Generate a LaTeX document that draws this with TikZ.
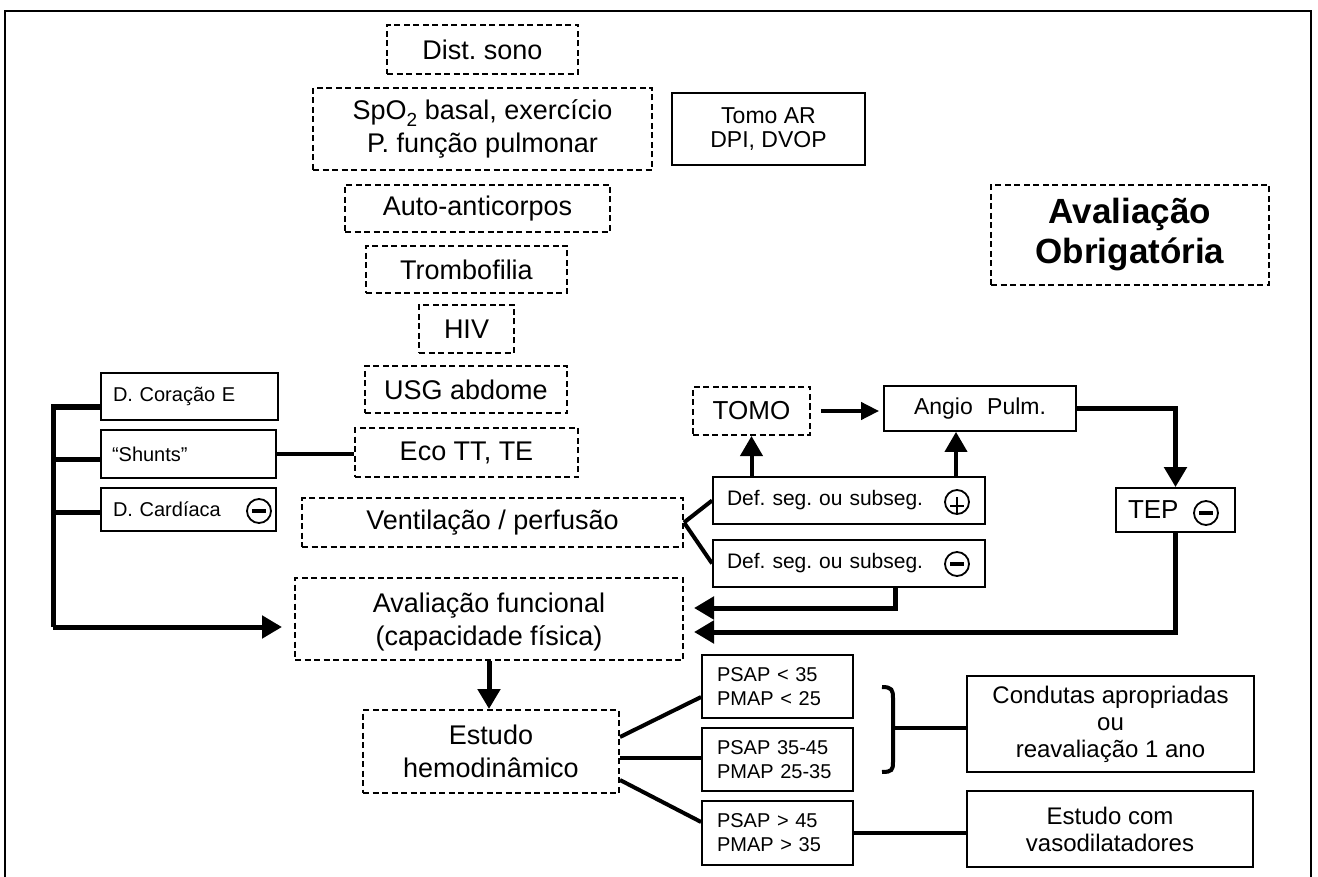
\documentclass[tikz,border=0pt]{standalone}
\usepackage{fontspec}
\setmainfont{Liberation Sans}
\usetikzlibrary{arrows.meta,calc}
\newcommand\fsMain{\fontsize{27pt}{33pt}\selectfont}
\newcommand\fsBig{\bfseries\fontsize{35pt}{40pt}\selectfont}
\newcommand\fsTomo{\fontsize{23pt}{24pt}\selectfont}
\newcommand\fsSide{\fontsize{20pt}{22pt}\selectfont}
\newcommand\fsDef{\fontsize{21pt}{22pt}\selectfont}
\newcommand\fsAngio{\fontsize{23pt}{24pt}\selectfont}
\newcommand\fsMid{\fontsize{26pt}{28pt}\selectfont}
\newcommand\fsPsap{\fontsize{20pt}{24pt}\selectfont}
\newcommand\fsOut{\fontsize{24pt}{27pt}\selectfont}
\begin{document}
\frenchspacing
\begin{tikzpicture}[x=1pt,y=-1pt,
  dbox/.style={draw, line width=2pt, dash pattern=on 6pt off 3.5pt, inner sep=0pt, align=center},
  sbox/.style={draw, line width=1.8pt, inner sep=0pt, align=center},
  lbox/.style={draw, line width=1.8pt, inner ysep=0pt, inner xsep=#1, align=left},
  wh/.style 2 args={minimum width=#1, minimum height=#2},
  sym/.style={circle, draw, line width=1.8pt, minimum size=24pt, inner sep=0pt},
  fat/.style={line width=5pt},
  med/.style={line width=4pt},
  tip/.style={-{Triangle[length=20pt,width=22pt]}},
  smalltip/.style={-{Triangle[length=18pt,width=17pt]}}]
\useasboundingbox (0,0) rectangle (1318,877);
\fill[white] (0,0) rectangle (1318,877);
% outer frame, open at the bottom
\draw[line width=2.5pt] (5,877) -- (5,11) -- (1311,11) -- (1311,877);

% central column of required examinations
\node[dbox, wh={191pt}{49pt}, font=\fsMain] (dist) at (482.5,49.5) {Dist. sono};
\node[dbox, wh={339pt}{82pt}, font=\fsMain] (spo) at (482.5,129)
  {SpO\raisebox{-7pt}{\fontsize{19pt}{19pt}\selectfont 2} basal, exercício\\P. função pulmonar};
\node[sbox, wh={193pt}{72pt}, font=\fsTomo] (tomoar) at (768.5,129) {Tomo AR\\DPI, DVOP};
\node[dbox, wh={278pt}{100pt}, font=\fsBig] (obrig) at (1130,235) {Avaliação\\Obrigatória};
\node[dbox, wh={265pt}{47pt}, font=\fsMain] (auto) at (477.5,208.5) {Auto-anticorpos};
\node[dbox, wh={201pt}{47pt}, font=\fsMain] (tromb) at (466.5,269.5) {Trombofilia};
\node[dbox, wh={95pt}{48pt}, font=\fsMain] (hiv) at (466.5,329) {HIV};
\node[dbox, wh={202pt}{47pt}, font=\fsMain] (usg) at (466,389.5) {USG abdome};
\node[dbox, wh={223pt}{49pt}, font=\fsMain] (eco) at (466.5,452.5) {Eco TT, TE};
\node[dbox, wh={381pt}{49pt}, font=\fsMain] (vent) at (492.5,522.5) {Ventilação / perfusão};
\node[dbox, wh={388pt}{82pt}, font=\fsMain, text depth=0pt] (avf) at (489,619) {Avaliação funcional\\(capacidade física)};
\node[dbox, wh={256pt}{83pt}, font=\fsMain] (estudo) at (491,751.5) {Estudo\\hemodinâmico};

% cardiac findings on the left
\node[lbox=12pt, text width=153pt, minimum height=47pt, font=\fsSide] (dcor) at (189.5,396.5) {D. Coração E};
\node[lbox=11pt, text width=153pt, minimum height=48pt, font=\fsSide] (shunt) at (188.5,454) {“Shunts”};
\node[lbox=12pt, text width=151pt, minimum height=43pt, font=\fsSide] (dcard) at (188.5,509.5) {D. Cardíaca};
\node[sym] (cm1) at (259,511) {};
\draw[line width=4.5pt] ([xshift=-7pt]cm1.center) -- ([xshift=7pt]cm1.center);

% pulmonary embolism branch
\node[dbox, wh={117pt}{48pt}, font=\fsMid] (tomo) at (751.5,411) {TOMO};
\node[sbox, wh={192pt}{45pt}, font=\fsAngio] (angio) at (980,408.5) {Angio\hspace{8pt} Pulm.};
\node[lbox=14pt, text width=244pt, minimum height=47pt, font=\fsDef] (defp) at (849,500.5) {Def. seg. ou subseg.};
\node[lbox=14pt, text width=244pt, minimum height=47pt, font=\fsDef] (defm) at (849,563.5) {Def. seg. ou subseg.};
\node[lbox=12pt, text width=95pt, minimum height=44pt, font=\fsMid] (tep) at (1175.5,510) {TEP};
\node[sym] (cp) at (957,502) {};
\draw[line width=2.5pt] ([xshift=-7pt,yshift=-4pt]cp.center) -- ([xshift=7pt,yshift=-4pt]cp.center);
\draw[line width=2.5pt] ([yshift=5pt]cp.center) -- (cp.south);
\node[sym] (cm2) at (957,564) {};
\draw[line width=4.5pt] ([xshift=-7pt]cm2.center) -- ([xshift=7pt]cm2.center);
\node[sym] (cm3) at (1206,513) {};
\draw[line width=4.5pt] ([xshift=-7pt]cm3.center) -- ([xshift=7pt]cm3.center);

% haemodynamic results
\node[lbox=15pt, text width=121pt, minimum height=63pt, font=\fsPsap] (p1) at (777.5,686.5) {PSAP < 35\\PMAP < 25};
\node[lbox=15pt, text width=121pt, minimum height=63pt, font=\fsPsap] (p2) at (777.5,759.5) {PSAP 35-45\\PMAP 25-35};
\node[lbox=15pt, text width=121pt, minimum height=64pt, font=\fsPsap] (p3) at (777.5,833) {PSAP > 45\\PMAP > 35};
\node[sbox, wh={287pt}{96pt}, font=\fsOut] (cond) at (1110.5,724) {Condutas apropriadas\\ou\\reavaliação 1 ano};
\node[sbox, wh={286pt}{76pt}, font=\fsOut] (vaso) at (1110,829) {Estudo com\\vasodilatadores};

% left bus into the functional assessment
\coordinate (b1) at (53,407);
\coordinate (b2) at (53,459);
\coordinate (b3) at (53,512);
\coordinate (b4) at (53,627);
\draw[fat] (dcor.west |- b1) -- (b1) -- (b4);
\draw[fat] (b2) -- (shunt.west |- b2);
\draw[fat] (b3) -- (dcard.west |- b3);
\draw[fat, tip, shorten >=12pt] (b4) -- (avf.west |- b4);
\draw[med] (shunt.east) -- (shunt.east -| eco.west);

% ventilation/perfusion split
\draw[med] (vent.east) -- (defp.west);
\draw[med] (vent.east) -- (defm.west);
\draw[med, tip] (tomo.south |- defp.north) -- (tomo.south);
\coordinate (aup) at ([xshift=-24pt]angio.south);
\draw[med, tip] (aup |- defp.north) -- (aup);
\draw[med, smalltip, shorten <=10pt, shorten >=4pt] (tomo.east) -- (tomo.east -| angio.west);
\draw[fat, tip] (angio.east) -| (tep.north);
\draw[fat, tip, shorten >=10pt] ([xshift=46pt]defm.south) |- ([yshift=11pt]avf.east);
\draw[fat, tip, shorten >=10pt] (tep.south) |- ([yshift=-13pt]avf.east);

% haemodynamic study
\draw[fat, tip] (avf.south) -- (avf.south |- estudo.north);
\draw[med] ([yshift=14.5pt]estudo.east) -- ([yshift=-10.5pt]p1.west);
\draw[med] ([yshift=-6.5pt]estudo.east) -- ([yshift=-6.5pt]estudo.east -| p2.west);
\draw[med] ([yshift=-28.5pt]estudo.east) -- ([yshift=11pt]p3.west);

% bracket grouping the two lower pressure ranges
\draw[line width=4pt] (882,687) .. controls (892,687) and (893,690) .. (893,698)
  -- (893,762) .. controls (893,770) and (892,772) .. (882,772);
\coordinate (bm) at (893,728);
\draw[med] (bm) -- (bm -| cond.west);
\draw[med] (p3.east) -- (p3.east -| vaso.west);
\end{tikzpicture}
\end{document}
